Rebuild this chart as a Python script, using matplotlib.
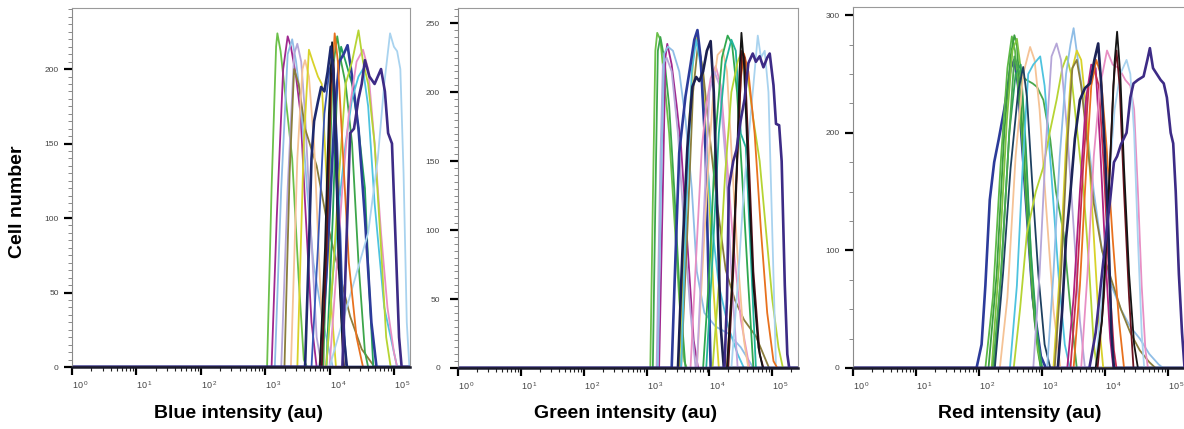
import numpy as np
import matplotlib
matplotlib.use("Agg")
import matplotlib.pyplot as plt
from matplotlib.ticker import FixedLocator, FuncFormatter, MultipleLocator, NullFormatter

plt.rcParams['font.family'] = ['Liberation Sans', 'DejaVu Sans']
plt.rcParams['mathtext.default'] = 'regular'

# ---------------- data: log10(intensity) and cell counts -----------------
# Blue channel
BLUE_X = [
    [3.03, 3.10, 3.17, 3.19, 3.24, 3.32, 3.42, 3.52, 3.60, 3.65],
    [3.10, 3.18, 3.28, 3.35, 3.40, 3.48, 3.55, 3.62, 3.72, 3.80],
    [3.15, 3.25, 3.35, 3.42, 3.48, 3.55, 3.65, 3.75, 3.90, 4.05],
    [3.25, 3.35, 3.45, 3.50, 3.56, 3.62, 3.70, 3.80, 3.88],
    [3.30, 3.38, 3.45, 3.52, 3.62, 3.80, 3.95, 4.06, 4.20, 4.32, 4.50, 4.70],
    [3.40, 3.50, 3.58, 3.62, 3.68, 3.76, 3.85, 3.92],
    [3.50, 3.60, 3.68, 3.74, 3.82, 3.88, 3.95, 4.03, 4.10],
    [3.72, 3.82, 3.92, 4.00, 4.05, 4.12, 4.20, 4.26],
    [3.95, 4.05, 4.12, 4.18, 4.25, 4.35, 4.45, 4.55, 4.62, 4.68],
    [3.90, 3.98, 4.05, 4.12, 4.18, 4.25, 4.35, 4.45, 4.55, 4.60],
    [3.85, 3.95, 4.02, 4.08, 4.15, 4.22, 4.28, 4.35, 4.45, 4.55, 4.65, 4.73],
    [3.95, 4.05, 4.15, 4.25, 4.35, 4.45, 4.52, 4.60, 4.70, 4.85, 5.00, 5.05],
    [4.00, 4.10, 4.20, 4.30, 4.42, 4.52, 4.60, 4.70, 4.80, 4.90, 5.00, 5.05],
    [3.95, 4.05, 4.15, 4.25, 4.35, 4.45, 4.52, 4.60, 4.70, 4.80, 4.88, 4.95],
    [4.00, 4.20, 4.40, 4.60, 4.75, 4.85, 4.94, 5.00, 5.05, 5.10, 5.15, 5.20, 5.24],
    [3.85, 3.95, 4.02, 4.08, 4.13, 4.20, 4.30, 4.42, 4.52],
    [3.88, 3.96, 4.02, 4.06, 4.10, 4.16, 4.22],
    [3.85, 3.93, 3.99, 4.04, 4.08, 4.14, 4.22],
    [3.62, 3.68, 3.72, 3.76, 3.82, 3.87, 3.92, 3.97, 4.02, 4.06, 4.12, 4.20, 4.27],
    [4.20, 4.26, 4.32, 4.38, 4.45, 4.50, 4.55, 4.62, 4.70, 4.75, 4.80, 4.86, 4.91,
     4.97, 5.03, 5.08, 5.12],
]
BLUE_Y = [
    [0, 120, 215, 224, 212, 180, 140, 60, 5, 0],
    [0, 100, 200, 222, 215, 195, 170, 110, 30, 0],
    [0, 120, 210, 220, 205, 180, 120, 70, 30, 0],
    [0, 120, 210, 217, 205, 170, 100, 20, 0],
    [0, 130, 200, 190, 160, 135, 100, 79, 55, 34, 12, 0],
    [0, 140, 200, 206, 195, 150, 60, 0],
    [0, 150, 213, 205, 195, 190, 130, 40, 0],
    [0, 80, 170, 200, 205, 150, 50, 0],
    [0, 100, 190, 215, 205, 190, 160, 120, 50, 0],
    [0, 100, 200, 222, 205, 190, 150, 70, 10, 0],
    [0, 60, 120, 170, 205, 210, 216, 195, 160, 100, 30, 0],
    [0, 60, 110, 150, 180, 195, 200, 175, 110, 40, 10, 0],
    [0, 60, 120, 170, 205, 213, 200, 150, 90, 40, 10, 0],
    [0, 60, 130, 190, 205, 226, 205, 190, 150, 80, 20, 0],
    [0, 30, 60, 90, 140, 190, 224, 215, 212, 200, 130, 30, 0],
    [0, 80, 180, 224, 205, 150, 70, 20, 0],
    [0, 90, 190, 206, 160, 60, 0],
    [0, 80, 170, 218, 170, 70, 0],
    [0, 80, 140, 165, 178, 188, 185, 198, 215, 200, 120, 30, 0],
    [0, 80, 157, 160, 180, 190, 206, 195, 190, 195, 200, 185, 157, 150, 80, 20, 0],
]
BLUE_COLORS = ['#6cc04a', '#a0288f', '#8fbde6', '#b5a6d8', '#8a7d3c', '#f5c396',
               '#d8d22a', '#3957b8', '#22a15a', '#3da64b', '#2c3b9a', '#4ec3df',
               '#e88fc4', '#b6d433', '#a9d3ef', '#e8711e', '#5a0f1a', '#111827',
               '#1e2a6e', '#3d2b86']

# Green channel
GREEN_X = [
    [3.06, 3.10, 3.14, 3.17, 3.22, 3.30, 3.36, 3.44, 3.52, 3.60, 3.64],
    [3.10, 3.14, 3.18, 3.22, 3.28, 3.36, 3.44, 3.52, 3.62],
    [3.20, 3.26, 3.30, 3.33, 3.40, 3.48, 3.55, 3.65, 3.75, 3.82],
    [3.16, 3.22, 3.26, 3.32, 3.40, 3.50, 3.60, 3.70, 3.78],
    [3.18, 3.24, 3.28, 3.34, 3.42, 3.52, 3.62, 3.72, 3.80, 3.92, 4.10, 4.30, 4.50, 4.70],
    [3.52, 3.60, 3.68, 3.76, 3.81, 3.88, 3.96, 4.06, 4.15],
    [3.55, 3.65, 3.74, 3.82, 3.90, 4.00, 4.12, 4.26, 4.40, 4.55, 4.74, 4.95],
    [3.55, 3.63, 3.72, 3.79, 3.86, 3.95, 4.05, 4.15, 4.30, 4.45, 4.55],
    [3.40, 3.46, 3.52, 3.62, 3.70, 3.76, 3.81, 3.86, 3.94, 4.02],
    [3.70, 3.80, 3.88, 3.95, 4.02, 4.10, 4.18, 4.28, 4.38, 4.50, 4.64],
    [3.80, 3.90, 4.00, 4.08, 4.13, 4.21, 4.28, 4.36, 4.45, 4.55, 4.62],
    [3.80, 3.90, 4.00, 4.08, 4.16, 4.26, 4.36, 4.45],
    [3.90, 4.00, 4.10, 4.20, 4.29, 4.36, 4.44, 4.52, 4.62, 4.70],
    [3.95, 4.05, 4.15, 4.25, 4.35, 4.42, 4.50, 4.58, 4.66, 4.74],
    [4.05, 4.15, 4.25, 4.35, 4.45, 4.52, 4.60, 4.70, 4.80, 4.90, 5.00, 5.10, 5.17],
    [4.35, 4.45, 4.55, 4.65, 4.72, 4.77, 4.82, 4.88, 4.94, 5.00, 5.06],
    [4.28, 4.36, 4.44, 4.50, 4.55, 4.62, 4.72, 4.82, 4.92, 5.02, 5.08],
    [4.30, 4.38, 4.46, 4.52, 4.56, 4.62, 4.70, 4.80, 4.86],
    [4.28, 4.36, 4.44, 4.48, 4.51, 4.55, 4.62, 4.70, 4.78, 4.85],
    [3.50, 3.57, 3.65, 3.73, 3.79, 3.84, 3.90, 3.96, 4.02, 4.07, 4.13, 4.18, 4.23],
    [4.24, 4.28, 4.31, 4.38, 4.43, 4.50, 4.56, 4.62, 4.69, 4.74, 4.80, 4.86, 4.92,
     4.96, 5.02, 5.06, 5.11, 5.15, 5.20, 5.24, 5.27],
]
GREEN_Y = [
    [0, 120, 230, 243, 238, 200, 170, 110, 50, 5, 0],
    [0, 120, 230, 240, 225, 190, 130, 60, 0],
    [0, 130, 225, 235, 220, 190, 160, 90, 20, 0],
    [0, 150, 220, 225, 215, 170, 100, 40, 0],
    [0, 150, 228, 233, 230, 215, 180, 130, 70, 40, 30, 25, 15, 0],
    [0, 90, 180, 235, 240, 220, 160, 60, 0],
    [0, 100, 200, 235, 215, 170, 120, 71, 50, 35, 23, 0],
    [0, 110, 215, 238, 220, 160, 100, 60, 30, 10, 0],
    [0, 80, 156, 197, 220, 238, 245, 225, 156, 0],
    [0, 90, 160, 190, 210, 219, 205, 150, 90, 35, 0],
    [0, 80, 160, 210, 227, 231, 215, 150, 80, 20, 0],
    [0, 100, 200, 215, 205, 150, 60, 0],
    [0, 70, 170, 225, 241, 235, 200, 140, 60, 0],
    [0, 80, 170, 220, 238, 230, 170, 160, 80, 0],
    [0, 60, 140, 200, 222, 230, 215, 180, 150, 100, 50, 15, 0],
    [0, 60, 130, 180, 215, 241, 225, 230, 200, 100, 0],
    [0, 60, 150, 210, 228, 215, 170, 100, 40, 5, 0],
    [0, 70, 170, 230, 225, 160, 70, 10, 0],
    [0, 60, 150, 215, 243, 220, 140, 60, 15, 0],
    [0, 83, 160, 204, 211, 208, 215, 230, 237, 200, 107, 30, 0],
    [0, 50, 131, 150, 158, 180, 195, 221, 228, 222, 226, 218, 225, 228, 205, 177,
     176, 150, 60, 10, 0],
]
GREEN_COLORS = ['#6cc04a', '#3da64b', '#a0288f', '#b5a6d8', '#8fbde6', '#d8d22a',
                '#8a7d3c', '#4ec3df', '#2c3b9a', '#e88fc4', '#f5c396', '#c3a6dd',
                '#2fa84f', '#22b39a', '#b6d433', '#a9d3ef', '#e8711e', '#5a0f1a',
                '#151515', '#1b2050', '#3d2b86']

# Red channel
RED_X = [
    [1.96, 2.04, 2.10, 2.17, 2.24, 2.31, 2.40, 2.50, 2.56, 2.62, 2.72, 2.85, 2.98, 3.06],
    [2.10, 2.22, 2.35, 2.45, 2.52, 2.57, 2.65, 2.75, 2.85, 2.93, 2.98],
    [2.15, 2.28, 2.40, 2.50, 2.56, 2.60, 2.68, 2.78, 2.88, 2.98],
    [2.20, 2.32, 2.44, 2.53, 2.60, 2.66, 2.74, 2.84, 2.94, 3.00],
    [2.24, 2.36, 2.48, 2.58, 2.66, 2.74, 2.82, 2.92, 3.00],
    [2.22, 2.35, 2.48, 2.56, 2.65, 2.75, 2.85, 2.92, 3.02, 3.13, 3.22, 3.34, 3.45, 3.55],
    [2.33, 2.45, 2.58, 2.70, 2.81, 2.88, 2.96, 3.06, 3.18, 3.29],
    [2.49, 2.60, 2.70, 2.78, 2.86, 2.97, 3.04, 3.14, 3.26, 3.36, 3.44],
    [2.25, 2.38, 2.50, 2.62, 2.70, 2.76, 2.84, 2.94, 3.04, 3.13],
    [2.55, 2.65, 2.76, 2.90, 3.02, 3.12, 3.23, 3.32, 3.39, 3.46, 3.56, 3.66, 3.74, 3.82, 3.87],
    [2.86, 2.96, 3.06, 3.15, 3.23, 3.30, 3.40, 3.50, 3.60, 3.68],
    [3.08, 3.18, 3.28, 3.38, 3.45, 3.50, 3.56, 3.64, 3.72, 3.82, 3.95, 4.10, 4.25,
     4.40, 4.55, 4.70, 4.85, 4.92],
    [3.18, 3.28, 3.38, 3.46, 3.55, 3.62, 3.70, 3.80, 3.90, 3.97],
    [3.20, 3.30, 3.40, 3.48, 3.55, 3.62, 3.72, 3.82, 3.95, 4.10, 4.25, 4.40, 4.55, 4.70, 4.80],
    [3.40, 3.50, 3.60, 3.70, 3.78, 3.85, 3.92, 4.00, 4.08, 4.13],
    [3.45, 3.55, 3.65, 3.74, 3.82, 3.90, 3.98, 4.06, 4.14, 4.18],
    [3.50, 3.60, 3.70, 3.78, 3.86, 3.93, 4.02, 4.12, 4.22, 4.30],
    [3.62, 3.72, 3.82, 3.92, 4.03, 4.12, 4.22, 4.32, 4.40, 4.46, 4.52, 4.58, 4.64, 4.68],
    [3.85, 3.95, 4.05, 4.15, 4.24, 4.34, 4.40, 4.46, 4.52, 4.58, 4.62],
    [3.88, 3.98, 4.06, 4.13, 4.18, 4.23, 4.30, 4.38, 4.45],
    [3.85, 3.95, 4.03, 4.10, 4.15, 4.19, 4.24, 4.30, 4.38, 4.46, 4.52],
    [3.25, 3.32, 3.38, 3.44, 3.52, 3.60, 3.68, 3.76, 3.83, 3.89, 3.94, 4.00, 4.05, 4.10, 4.14],
    [3.75, 3.85, 3.95, 4.03, 4.08, 4.14, 4.19, 4.25, 4.34, 4.40, 4.45, 4.52, 4.61,
     4.67, 4.71, 4.76, 4.82, 4.88, 4.93, 4.98, 5.04, 5.08, 5.12, 5.17, 5.22, 5.26],
]
RED_Y = [
    [0, 20, 70, 143, 175, 194, 220, 255, 262, 240, 160, 60, 10, 0],
    [0, 60, 180, 255, 282, 270, 220, 140, 60, 15, 0],
    [0, 80, 200, 265, 283, 275, 210, 120, 40, 0],
    [0, 90, 210, 270, 280, 255, 180, 80, 15, 0],
    [0, 90, 200, 250, 258, 190, 100, 30, 0],
    [0, 80, 200, 265, 250, 245, 242, 239, 228, 194, 150, 115, 50, 0],
    [0, 60, 180, 250, 273, 262, 220, 140, 50, 0],
    [0, 70, 180, 250, 258, 265, 240, 170, 80, 20, 0],
    [0, 80, 170, 235, 256, 230, 160, 80, 20, 0],
    [0, 50, 115, 150, 171, 200, 228, 255, 265, 250, 200, 150, 90, 20, 0],
    [0, 80, 190, 265, 276, 262, 200, 120, 40, 0],
    [0, 80, 180, 250, 275, 289, 265, 235, 200, 150, 100, 70, 50, 35, 25, 12, 3, 0],
    [0, 80, 190, 250, 270, 262, 220, 130, 40, 0],
    [0, 80, 190, 255, 262, 240, 190, 140, 100, 75, 50, 30, 15, 5, 0],
    [0, 60, 150, 230, 258, 255, 190, 100, 25, 0],
    [0, 70, 170, 240, 255, 240, 170, 80, 15, 0],
    [0, 70, 170, 240, 262, 250, 190, 110, 40, 0],
    [0, 80, 180, 240, 270, 258, 255, 245, 240, 220, 150, 70, 15, 0],
    [0, 60, 150, 220, 250, 262, 250, 200, 110, 30, 0],
    [0, 60, 150, 240, 270, 240, 150, 60, 0],
    [0, 40, 120, 200, 260, 286, 250, 170, 80, 20, 0],
    [0, 50, 110, 143, 195, 228, 238, 242, 262, 276, 240, 180, 120, 30, 0],
    [0, 30, 80, 120, 143, 175, 180, 190, 200, 230, 242, 245, 248, 262, 272, 255,
     250, 245, 242, 230, 200, 191, 150, 80, 30, 0],
]
RED_COLORS = ['#2c3b9a', '#5cb946', '#3c9d3f', '#7cc242', '#2ea05a', '#4aa84e',
              '#f5c396', '#4ec3df', '#1d4060', '#b6d433', '#b5a6d8', '#8fbde6',
              '#d8d22a', '#8a7d3c', '#b0207f', '#c62d50', '#e8711e', '#e88fc4',
              '#a9d3ef', '#6b1420', '#141414', '#1c2357', '#3d2b86']

THICK_COLORS = {'#1e2a6e', '#3d2b86', '#1b2050', '#1c2357', '#2c3b9a'}

X_TITLES = ['Blue intensity (au)', 'Green intensity (au)', 'Red intensity (au)']
Y_TITLE = 'Cell number'

# ---------------- layout -----------------
W, H = 1184, 429
fig = plt.figure(figsize=(W / 100, H / 100), dpi=100)


def add_px_axes(left, top, right, bottom):
    return fig.add_axes([left / W, 1 - bottom / H, (right - left) / W, (bottom - top) / H])


panels = [
    dict(box=(72, 8, 410, 367), xmax=5.25, ymax=241, major=50, minor=5, pad=3.5,
         X=BLUE_X, Y=BLUE_Y, C=BLUE_COLORS, cx=238, title=X_TITLES[0]),
    dict(box=(458, 8, 798, 368), xmax=5.41, ymax=261, major=50, minor=5, pad=7,
         X=GREEN_X, Y=GREEN_Y, C=GREEN_COLORS, cx=626, title=X_TITLES[1]),
    dict(box=(853, 7, 1194, 368), xmax=5.41, ymax=307, major=100, minor=25, pad=3.5,
         X=RED_X, Y=RED_Y, C=RED_COLORS, cx=1020, title=X_TITLES[2]),
]

decades = np.arange(0, 6)
minor_pos = [m * 10.0 ** d for d in range(0, 6) for m in range(2, 10)]

for p in panels:
    ax = add_px_axes(*p['box'])
    ax.set_xscale('log')
    ax.set_xlim(1, 10 ** p['xmax'])
    ax.set_ylim(0, p['ymax'])
    for xs, ys, c in zip(p['X'], p['Y'], p['C']):
        lx = np.concatenate([[0.0], xs, [p['xmax'] + 0.1]])
        ly = np.concatenate([[0.0], ys, [0.0]])
        lw = 1.9 if c in THICK_COLORS else 1.3
        ax.plot(10 ** lx, ly, color=c, lw=lw, solid_joinstyle='round', clip_on=True)

    ax.xaxis.set_major_locator(FixedLocator(10.0 ** decades))
    ax.xaxis.set_minor_locator(FixedLocator(minor_pos))
    ax.xaxis.set_major_formatter(
        FuncFormatter(lambda v, pos: r'$10^{\,%d}$' % round(np.log10(v))))
    ax.xaxis.set_minor_formatter(NullFormatter())
    for lab in ax.get_xticklabels():
        lab.set_ha('left')
    ax.yaxis.set_major_locator(MultipleLocator(p['major']))
    ax.yaxis.set_minor_locator(MultipleLocator(p['minor']))

    ax.tick_params(axis='x', which='major', length=6, width=1.6, color='black',
                   labelsize=6.5, labelcolor='#444444', pad=2.5)
    ax.tick_params(axis='x', which='minor', length=3, width=0.8, color='#222222')
    ax.tick_params(axis='y', which='major', length=6, width=1.6, color='black',
                   labelsize=6, labelcolor='#444444', pad=p['pad'])
    ax.tick_params(axis='y', which='minor', length=3, width=0.6, color='#777777')

    for s in ('top', 'right'):
        ax.spines[s].set_color('#9a9a9a')
        ax.spines[s].set_linewidth(0.8)
    ax.spines['left'].set_color('#8a8a8a')
    ax.spines['left'].set_linewidth(0.8)
    ax.spines['bottom'].set_color('#1a1a2a')
    ax.spines['bottom'].set_linewidth(1.8)
    ax.spines['bottom'].set_zorder(5)

    fig.text(p['cx'] / W, 1 - 414 / H, p['title'], ha='center', va='center',
             fontsize=14, fontweight='bold')

fig.text(18 / W, 1 - 202 / H, Y_TITLE, rotation=90, ha='center', va='center',
         fontsize=14, fontweight='bold')

fig.savefig('out.png', dpi=100)
